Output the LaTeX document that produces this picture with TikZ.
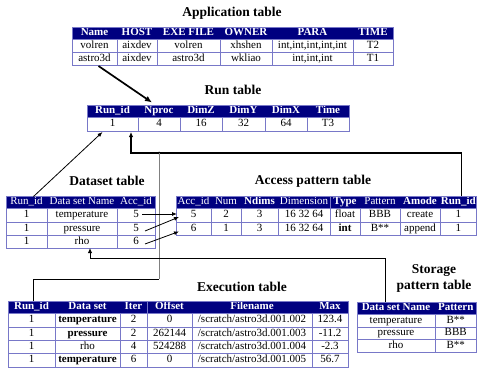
\documentclass[tikz,border=0pt]{standalone}
\usepackage{fontspec}
\setmainfont{Liberation Serif}
\usetikzlibrary{arrows.meta}

\definecolor{hdrblue}{RGB}{0,0,128}
\definecolor{gridblue}{RGB}{120,120,200}

\tikzset{
  cellbase/.style={inner sep=0pt, outer sep=0pt, text height=7.6pt, text depth=2.4pt,
                   font=\fontsize{11}{11}\selectfont},
  headcell/.style={cellbase, fill=hdrblue, draw=hdrblue, text=white,
                   font=\fontsize{11}{11}\selectfont\bfseries},
  headthin/.style={headcell, font=\fontsize{11}{11}\selectfont},
  bodycell/.style={cellbase, fill=white, draw=gridblue, line width=0.8pt},
  tabframe/.style={draw=gridblue, line width=0.8pt},
  tabtitle/.style={font=\fontsize{13.5}{15}\selectfont\bfseries, align=center, inner sep=0pt},
  link/.style={line width=0.8pt, -{Latex[length=5pt,width=4pt]}},
  bigarrow/.style={line width=1.7pt, -{Latex[length=7pt,width=6pt]}},
  route/.style={line width=1.1pt},
}

% one table row: name prefix, cell style, top y, bottom y, list of x1/x2/text
\newcommand\tabrow[5]{%
  \foreach \xa/\xb/\celltext [count=\ci] in {#5}{%
    \node[#2, minimum width={(\xb-\xa)*1pt}, minimum height={(#4-#3)*1pt}]
      (#1-\ci) at ({(\xa+\xb)/2},{(#3+#4)/2}) {\celltext};
  }%
}

\begin{document}
\begin{tikzpicture}[x=1pt,y=-1pt]
\useasboundingbox[fill=white] (0,0) rectangle (477,369);

% ---------------- Application table
\node[tabtitle] (app-title) at (232,13) {Application table};
\tabrow{app-h}{headcell}{27}{39}{72/117/Name,117/157/HOST,157/220/EXE FILE,220/272/OWNER,272/353/PARA,353/393/TIME}
\tabrow{app-r1}{bodycell}{39}{52}{72/117/volren,117/157/aixdev,157/220/volren,220/272/xhshen,272/353/{int,int,int,int,int},353/393/T2}
\tabrow{app-r2}{bodycell}{52}{65}{72/117/astro3d,117/157/aixdev,157/220/astro3d,220/272/wkliao,272/353/{int,int,int},353/393/T1}
\draw[tabframe] (72,27) rectangle (393,65);

% ---------------- Run table
\node[tabtitle] (run-title) at (233,90) {Run table};
\tabrow{run-h}{headcell}{105.5}{117}{87/138/Run\_id,138/180/Nproc,180/222/DimZ,222/265/DimY,265/307/DimX,307/349/Time}
\tabrow{run-r}{bodycell}{117}{131}{87/138/1,138/180/4,180/222/16,222/265/32,265/307/64,307/349/T3}
\draw[tabframe] (87,105.5) rectangle (349,131);

% ---------------- Dataset table
\node[tabtitle] (ds-title) at (107,181) {Dataset table};
\tabrow{ds-h}{headthin}{196.5}{208}{6/47/Run\_id,47/117/Data set Name,117/155/Acc\_id}
\tabrow{ds-r1}{bodycell}{208}{222}{6/47/1,47/117/temperature,117/155/5}
\tabrow{ds-r2}{bodycell}{222}{235}{6/47/1,47/117/pressure,117/155/5}
\tabrow{ds-r3}{bodycell}{235}{248}{6/47/1,47/117/rho,117/155/6}
\draw[tabframe] (6,196.5) rectangle (155,248);

% ---------------- Access pattern table
\node[tabtitle] (acc-title) at (313,181) {Access pattern table};
\tabrow{acc-h}{headthin}{196}{208}{176/211/Acc\_id,211/241/Num,241/278/\textbf{Ndims},278/330/Dimension,330/360/\textbf{Type},360/400/Pattern,400/440/\textbf{Amode},440/476.5/\textbf{Run\_id}}
\tabrow{acc-r1}{bodycell}{208}{222}{176/211/5,211/241/2,241/278/3,278/330/16 32 64,330/360/float,360/400/BBB,400/440/create,440/476.5/1}
\tabrow{acc-r2}{bodycell}{222}{235}{176/211/6,211/241/1,241/278/3,278/330/16 32 64,330/360/\textbf{int},360/400/B**,400/440/append,440/476.5/1}
\draw[gridblue, line width=0.8pt] (330,196) -- (330,208);
\draw[tabframe] (176,196) rectangle (476.5,235);

% ---------------- Execution table
\node[tabtitle] (exec-title) at (242,287) {Execution table};
\tabrow{exec-h}{headcell}{301}{313}{8/55/Run\_id,55/120/Data set,120/147/Iter,147/192/Offset,192/312/Filename,312/348/Max}
\tabrow{exec-r1}{bodycell}{313}{327}{8/55/1,55/120/\textbf{temperature},120/147/2,147/192/0,192/312/{/scratch/astro3d.001.002},312/348/123.4}
\tabrow{exec-r2}{bodycell}{327}{340}{8/55/1,55/120/\textbf{pressure},120/147/2,147/192/262144,192/312/{/scratch/astro3d.001.003},312/348/-11.2}
\tabrow{exec-r3}{bodycell}{340}{353}{8/55/1,55/120/rho,120/147/4,147/192/524288,192/312/{/scratch/astro3d.001.004},312/348/-2.3}
\tabrow{exec-r4}{bodycell}{353}{367}{8/55/1,55/120/\textbf{temperature},120/147/6,147/192/0,192/312/{/scratch/astro3d.001.005},312/348/56.7}
\draw[gridblue, line width=0.8pt] (147,301) -- (147,313);
\draw[tabframe] (8,301) rectangle (348,367);

% ---------------- Storage pattern table
\node[tabtitle] (stor-title) at (434,278) {Storage\\[1pt]pattern table};
\tabrow{stor-h}{headcell}{302}{314}{357/435/Data set Name,435/476.5/Pattern}
\tabrow{stor-r1}{bodycell}{314}{327}{357/435/temperature,435/476.5/B**}
\tabrow{stor-r2}{bodycell}{327}{339}{357/435/pressure,435/476.5/BBB}
\tabrow{stor-r3}{bodycell}{339}{352}{357/435/rho,435/476.5/B**}
\draw[tabframe] (357,302) rectangle (476.5,352);

% ---------------- Connectors
% application -> run
\draw[bigarrow] ([shift={(4,1)}]app-r2-1.south) -- ([shift={(14,-3)}]run-h-2.north west);
% dataset run id -> run
\draw[link] ([shift={(7,0)}]ds-h-1.north) -- ([shift={(-10,1)}]run-r-1.south);
% access run id -> run
\draw[route, -{Latex[length=5pt,width=4.5pt]}] ([shift={(3,0)}]acc-h-8.north) -- ++(0,-43) -| ([shift={(18.5,1)}]run-r-1.south);
% branch down to the execution table
\coordinate (jct) at (159,153);
\fill (jct) circle (1.5pt);
\draw[gray, line width=0.9pt] (jct) -- ++(0,126) coordinate (jbend);
\draw[line width=0.9pt] (jbend) -| ([shift={(1.5,0)}]exec-h-1.north);
% storage -> dataset rho
\draw[line width=1pt, -{Latex[length=5pt,width=4.5pt]}] ([shift={(-11,0)}]stor-h-1.north) -- ++(0,-44) -| ([shift={(8,0)}]ds-r3-2.south);
% dataset acc id -> access rows
\draw[link] ([shift={(6,-1)}]ds-r1-3.center) -- ([shift={(1,-1)}]acc-r1-1.west);
\draw[link] ([shift={(9,2.5)}]ds-r2-3.center) -- ([shift={(3,2)}]acc-r1-1.west);
\draw[link] ([shift={(9,2.5)}]ds-r3-3.center) -- ([shift={(3,3)}]acc-r2-1.west);
\end{tikzpicture}
\end{document}
